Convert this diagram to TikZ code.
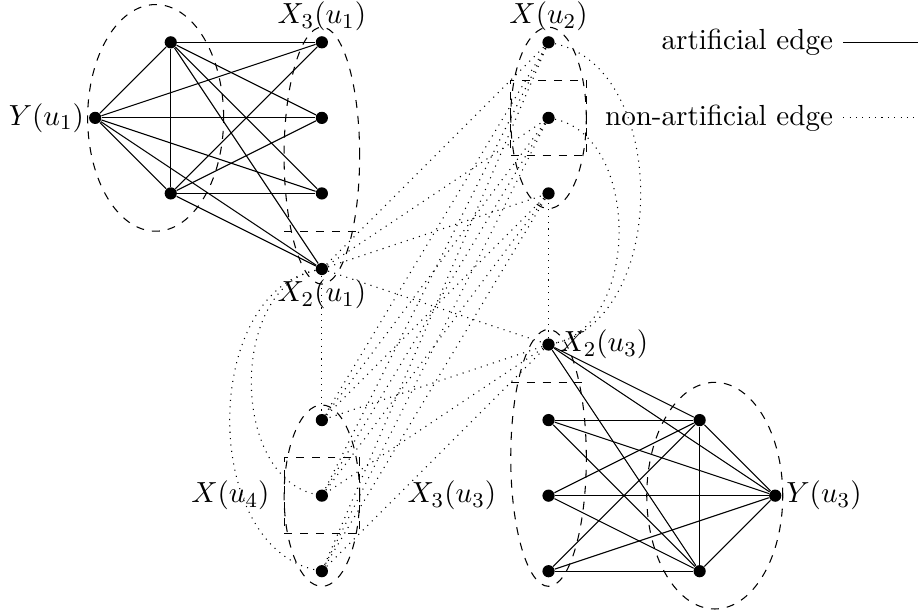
\documentclass[tikz,border=0pt,11pt]{standalone}
\usepackage{amsmath}
\usepackage{amssymb}
\usepackage{tikz}
\usetikzlibrary{arrows, positioning, shapes}

\begin{document}
\begin{tikzpicture}[node distance=1cm and 1cm, on grid,
	dot/.style={circle, fill, inner sep=0pt, minimum size=4.6pt},
	group/.style={draw, dashed, ellipse, inner sep=0pt},
	every label/.append style={inner sep=1.5pt}]

\useasboundingbox (-1.26,1.56) rectangle (10.89,-6.57);

\node [dot, label=left:$Y(u_1)$] (y1) at (0,0) {};
\node [dot, above right=of y1] (a1) {};
\node [dot, below right=of y1] (a2) {};
\node [dot, right=2cm of a1, label=above:$X_3(u_1)$] (x31) {};
\node [dot, below=of x31] (x32) {};
\node [dot, below=of x32] (x33) {};
\node [dot, below=of x33, label=below:$X_2(u_1)$] (x21) {};

\node [dot, right=3cm of x31, label=above:$X(u_2)$] (p1) {};
\node [dot, below=of p1] (p2) {};
\node [dot, below=of p2] (p3) {};

\node [dot, below=2cm of p3, label=right:$X_2(u_3)$] (s) {};
\node [dot, below=of s] (c1) {};
\node [dot, below=of c1, label={[label distance=15.5pt]left:$X_3(u_3)$}] (c2) {};
\node [dot, below=of c2] (c3) {};
\node [dot, right=2cm of c1] (b1) {};
\node [dot, right=2cm of c3] (b2) {};
\node [dot, below right=of b1, label=right:$Y(u_3)$] (y3) {};

\node [dot, left=3cm of c1] (q1) {};
\node [dot, below=of q1, label={[label distance=15.5pt]left:$X(u_4)$}] (q2) {};
\node [dot, below=of q2] (q3) {};

\node [group, minimum width=1.8cm, minimum height=3cm] (g1) at (0.8,0) {};
\node [group, minimum width=1cm, minimum height=3.4cm] (h1) at (3,-0.5) {};
\node [group, minimum width=1cm, minimum height=2.4cm] (h2) at (p2) {};
\node [group, minimum width=1cm, minimum height=3.4cm] (h3) at (6,-4.5) {};
\node [group, minimum width=1cm, minimum height=2.4cm] (h4) at (q2) {};
\node [group, minimum width=1.8cm, minimum height=3cm] (g3) at (8.2,-5) {};

\node [draw, dashed, minimum size=1cm] (r2) at (p2) {};
\node [draw, dashed, minimum size=1cm] (r4) at (q2) {};
\draw [dashed] (2.5,-1.5) -- (3.5,-1.5);
\draw [dashed] (5.5,-3.5) -- (6.5,-3.5);

\path [draw] (y1) edge (a1) edge (a2) edge (x31) edge (x32) edge (x33) edge (x21);
\path [draw] (a1) edge (a2) edge (x31) edge (x32) edge (x33) edge (x21);
\path [draw] (a2) edge (x31) edge (x32) edge (x33) edge (x21);

\path [draw] (y3) edge (b1) edge (b2) edge (s) edge (c1) edge (c2) edge (c3);
\path [draw] (b1) edge (b2) edge (s) edge (c1) edge (c2) edge (c3);
\path [draw] (b2) edge (s) edge (c1) edge (c2) edge (c3);

\path [draw, dotted] (x21) edge (s) edge (q1) edge (p1) edge (p2) edge (p3);
\path [draw, dotted] (x21) edge [bend right=78] (q2) edge [bend right=78] (q3);
\path [draw, dotted] (p1) edge [bend left=78] (s);
\path [draw, dotted] (p2) edge [bend left=78] (s);
\path [draw, dotted] (s) edge (p3) edge (q1) edge (q2) edge (q3);
\path [draw, dotted] (p1) edge (q1) edge (q2) edge (q3);
\path [draw, dotted] (p2) edge (q1) edge (q2) edge (q3);
\path [draw, dotted] (p3) edge (q1) edge (q2) edge (q3);

\coordinate (l1) at (9.9,1);
\coordinate [right=of l1] (m1);
\node [left] (t1) at (l1) {artificial edge};
\draw (l1) -- (m1);

\coordinate (l2) at (9.9,0);
\coordinate [right=of l2] (m2);
\node [left] (t2) at (l2) {non-artificial edge};
\draw [dotted] (l2) -- (m2);

\end{tikzpicture}
\end{document}
